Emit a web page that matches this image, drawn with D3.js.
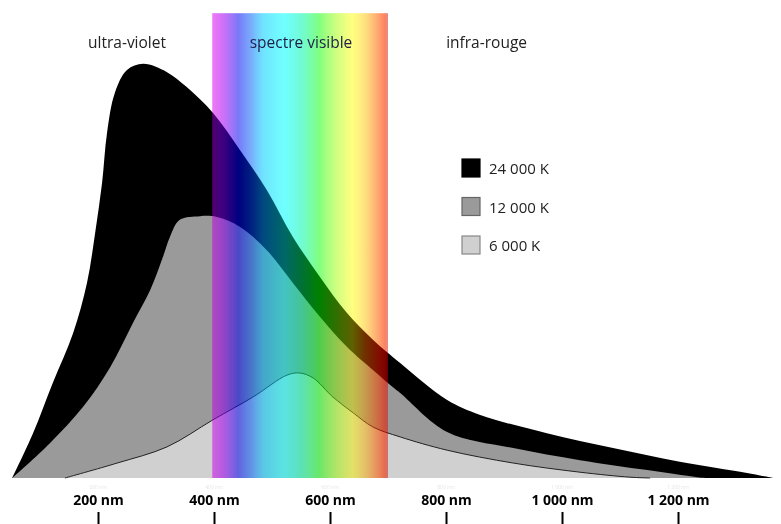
<!DOCTYPE html>
<html>
<head>
<meta charset="utf-8">
<script src="https://cdn.jsdelivr.net/npm/d3@7"></script>
<style>
  body { margin: 0; background: #fff; }
  svg { display: block; }
  text { font-family: "Open Sans", sans-serif; }
</style>
</head>
<body>
<div id="chart"></div>
<script>
// data: [wavelength nm, relative intensity]
var series24000 = [[52,0],[88,10.8],[122,22.9],[157,34.9],[181,47.0],[195,59.0],[207,71.1],[215.5,83.1],[229,92.8],[250,98.3],[278,99.8],[319,97.8],[353,94.2],[398,88.0],[445,79.0],[491,69.4],[536,58.1],[583,48.4],[629,39.8],[674,33.3],[721,27.7],[802,18.8],[859,15.2],[974,10.8],[1088,7.2],[1203,3.9],[1319,1.2],[1364,0]];
var series12000 = [[52,0],[117,8.4],[174,17.1],[221,26.7],[260,37.3],[290,45.3],[312,53.3],[324,58.1],[341,62.2],[376,63.1],[405,62.9],[445,60.5],[491,54.9],[536,47.0],[583,38.8],[629,31.6],[674,26.0],[698,23.1],[721,20.5],[802,11.1],[916,7.2],[1031,4.3],[1147,1.9],[1233,0.2],[1255,0]];
var series6000 = [[143,0],[233,3.6],[319,7.5],[398,14.0],[467,19.5],[526,24.8],[548,25.3],[571,24.1],[605,19.5],[640,15.7],[674,12.3],[721,9.9],[802,6.7],[916,3.6],[1031,1.4],[1117,0.2],[1152,0]];

var temps = [24000, 12000, 6000];
var tickValues = [200, 400, 600, 800, 1000, 1200];
var bandNm = [397, 700];
var regionNames = ['ultra-violet', 'spectre visible', 'infra-rouge'];
var regionNm = [250, 550, 870];

// spectrum colours: seen over white (multiply) and over black (screen)
var spectrumNm = [397, 415, 442, 464, 485, 521, 550, 581, 610, 639, 661, 683, 695, 700];
var spectrumLight = ['#e878f0','#c070f0','#7878f0','#78a0f8','#70d8fc','#70ffff','#70f8c8','#80ff80','#c0ff80','#ffff80','#ffd880','#ffa070','#ff8060','#c89090'];
var spectrumDark = ['#500070','#400080','#000080','#002080','#004a80','#006868','#007038','#008000','#307000','#606000','#703000','#801000','#800000','#600000'];

var W = 781, H = 524;
var fill = ['#000', '#9a9a9a', '#d0d0d0'];
var stroke = ['#000', '#666', '#888'];

var fr = d3.formatLocale({decimal: ',', thousands: '\u00a0', grouping: [3], currency: ['', '']});
var fmt = fr.format(',d');

var svg = d3.select('#chart').append('svg')
    .attr('width', W)
    .attr('height', H);

svg.append('rect').attr('width', W).attr('height', H).attr('fill', '#fff');

var x = d3.scaleLinear().domain([0, 1400]).range([-18, 794]);
var y = d3.scaleLinear().domain([0, 100]).range([478, 63]);

var curve = d3.curveCatmullRom.alpha(0.5);
var area = d3.area()
    .curve(curve)
    .x(function (d) { return x(d[0]); })
    .y0(y(0))
    .y1(function (d) { return y(d[1]); });
var line = d3.line()
    .curve(curve)
    .x(function (d) { return x(d[0]); })
    .y(function (d) { return y(d[1]); });

var curves = svg.append('g');
[series24000, series12000, series6000].forEach(function (s, i) {
    curves.append('path')
        .attr('d', area(s))
        .attr('fill', fill[i]);
});
curves.append('path')
    .attr('d', line(series6000))
    .attr('fill', 'none')
    .attr('stroke', '#222')
    .attr('stroke-width', 1);

// gradients for the visible band
var defs = svg.append('defs');
function gradient(id, colors) {
    var g = defs.append('linearGradient')
        .attr('id', id)
        .attr('x1', 0).attr('x2', 1).attr('y1', 0).attr('y2', 0);
    g.selectAll('stop')
        .data(spectrumNm)
        .enter()
        .append('stop')
        .attr('offset', function (d) { return (d - bandNm[0]) / (bandNm[1] - bandNm[0]); })
        .attr('stop-color', function (d, i) { return colors[i]; });
}
gradient('specLight', spectrumLight);
gradient('specDark', spectrumDark);

var bandTop = y(112);
svg.append('rect')
    .attr('x', x(bandNm[0]))
    .attr('y', bandTop)
    .attr('width', x(bandNm[1]) - x(bandNm[0]))
    .attr('height', y(0) - bandTop)
    .attr('fill', 'url(#specLight)')
    .style('mix-blend-mode', 'multiply');
svg.append('rect')
    .attr('x', x(bandNm[0]))
    .attr('y', bandTop)
    .attr('width', x(bandNm[1]) - x(bandNm[0]))
    .attr('height', y(0) - bandTop)
    .attr('fill', 'url(#specDark)')
    .style('mix-blend-mode', 'screen');

// region names
svg.append('g').selectAll('text')
    .data(regionNames)
    .enter()
    .append('text')
    .attr('x', function (d, i) { return x(regionNm[i]); })
    .attr('y', 48)
    .attr('text-anchor', 'middle')
    .attr('font-size', 15.5)
    .attr('fill', function (d, i) { return i === 1 ? '#1e1e48' : '#222'; })
    .text(function (d) { return d; });

// legend
var legend = svg.append('g').attr('transform', 'translate(462,159)');
var items = legend.selectAll('g')
    .data(temps)
    .enter()
    .append('g')
    .attr('transform', function (d, i) { return 'translate(0,' + (i * 38.5) + ')'; });
items.append('rect')
    .attr('width', 18).attr('height', 18)
    .attr('fill', function (d, i) { return fill[i]; })
    .attr('stroke', function (d, i) { return stroke[i]; })
    .attr('stroke-width', 1.2);
items.append('text')
    .attr('x', 27).attr('y', 15)
    .attr('font-size', 15)
    .attr('fill', '#222')
    .text(function (d) { return fmt(d) + ' K'; });

// axis: labels above the ticks
var axis = d3.axisTop(x)
    .tickValues(tickValues)
    .tickSize(12)
    .tickPadding(7)
    .tickFormat(function (d) { return fmt(d) + ' nm'; });
var ax = svg.append('g')
    .attr('transform', 'translate(0,' + H + ')')
    .call(axis);
ax.select('.domain').remove();
ax.selectAll('line').attr('stroke', '#000').attr('stroke-width', 2);
ax.selectAll('text')
    .attr('font-family', '"Open Sans", sans-serif')
    .attr('font-size', 14)
    .attr('font-weight', 700)
    .attr('fill', '#000');

// faint ghost labels under the baseline
svg.append('g').selectAll('text')
    .data(tickValues)
    .enter()
    .append('text')
    .attr('x', function (d) { return x(d); })
    .attr('y', 489)
    .attr('text-anchor', 'middle')
    .attr('font-size', 5)
    .attr('fill', '#e6e6e6')
    .text(function (d) { return fmt(d) + ' nm'; });
</script>
</body>
</html>
